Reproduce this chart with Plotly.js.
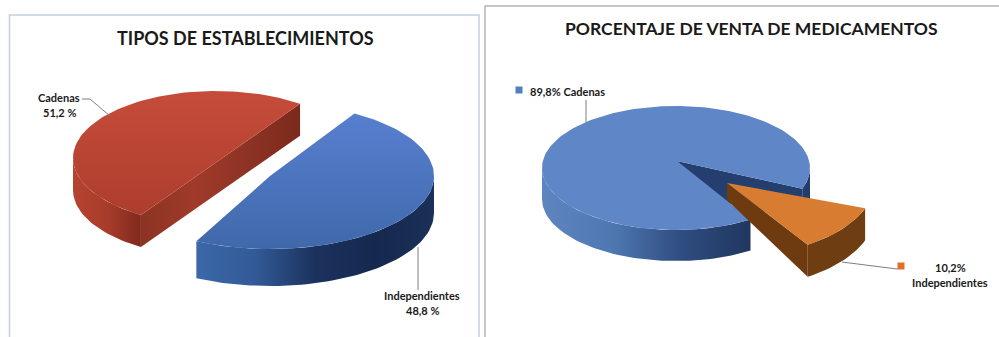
<!DOCTYPE html>
<html lang="es">
<head>
<meta charset="utf-8">
<script src="https://cdn.plot.ly/plotly-3.0.1.min.js"></script>
<style>html,body{margin:0;padding:0;background:#fff}#chart{width:999px;height:337px}</style>
</head>
<body>
<div id="chart"></div>
<script>
// Shares per panel
const establishmentCategories = ['Cadenas', 'Independientes'];
const establishmentValues = [51.2, 48.8];
const salesCategories = ['Cadenas', 'Independientes'];
const salesValues = [89.8, 10.2];
const panelTitles = ['TIPOS DE ESTABLECIMIENTOS', 'PORCENTAJE DE VENTA DE MEDICAMENTOS'];

// Slice projections on the pixel-sized page axes: ellipse centre, radii, extrusion,
// starting angle in degrees and sweep direction.
const chainGeo = {cx: 216, cy: 158, rx: 143, ry: 67, depth: 32, start: 54, dir: 1, chord: true};
const indepGeo = {cx: 270, cy: 176, rx: 164, ry: 73, depth: 37, start: 59, dir: -1};
const salesChainGeo = {cx: 676, cy: 168, rx: 134, ry: 62, depth: 31, start: -19.5, dir: 1, ax: 677, ay: 161};
const salesIndepGeo = {cx: 727, cy: 183, rx: 147, ry: 74, depth: 32, start: -20, dir: -1, apexDepth: 17};

const rad = d => d * Math.PI / 180;
const px = (g, a) => g.cx + g.rx * Math.cos(rad(a));
const py = (g, a) => g.cy - g.ry * Math.sin(rad(a));

function angles(a0, a1) {
  const n = Math.max(2, Math.ceil(Math.abs(a1 - a0) / 2));
  const out = [];
  for (let i = 0; i <= n; i++) out.push(a0 + (a1 - a0) * i / n);
  return out;
}

function poly(xs, ys, fill, name) {
  const t = {x: xs, y: ys, mode: 'lines', fill: 'toself', line: {width: 0, color: 'rgba(0,0,0,0)'},
             hoverinfo: 'skip', name: name, showlegend: false};
  if (fill.type) t.fillgradient = fill; else t.fillcolor = fill;
  return t;
}
const hGrad = (...c) => ({type: 'horizontal', colorscale: c.map((col, i) => [i / (c.length - 1), col])});
const vGrad = (...c) => ({type: 'vertical', colorscale: c.map((col, i) => [i / (c.length - 1), col])});

// Top face of a slice: the rim arc covering the slice's share of the circle, closed
// through the apex, or straight across when the slice is cut along a chord
function topFace(g, value, fill, name) {
  const end = g.start + g.dir * value * 3.6;
  const arc = angles(g.start, end);
  const xs = arc.map(a => px(g, a)), ys = arc.map(a => py(g, a));
  if (!g.chord) {
    xs.push(g.ax === undefined ? g.cx : g.ax);
    ys.push(g.ay === undefined ? g.cy : g.ay);
  }
  xs.push(xs[0]); ys.push(ys[0]);
  return poly(xs, ys, fill, name);
}
// Outer wall between two angles on the rim
function wall(g, a0, a1, fill, name) {
  const arc = angles(a0, a1);
  return poly([...arc.map(a => px(g, a)), ...arc.slice().reverse().map(a => px(g, a))],
              [...arc.map(a => py(g, a)), ...arc.slice().reverse().map(a => py(g, a) + g.depth)], fill, name);
}
// Flat cut wall running from the apex out to the rim at one angle
function cut(g, a, fill, name) {
  const ax = g.ax === undefined ? g.cx : g.ax, ay = g.ay === undefined ? g.cy : g.ay;
  const d0 = g.apexDepth === undefined ? g.depth : g.apexDepth;
  return poly([ax, px(g, a), px(g, a), ax, ax], [ay, py(g, a), py(g, a) + g.depth, ay + d0, ay], fill, name);
}

const traces = [];

// Left panel
const chainEnd = chainGeo.start + chainGeo.dir * establishmentValues[0] * 3.6;
const chainBack = poly(
  [px(chainGeo, chainEnd), px(chainGeo, chainGeo.start), px(chainGeo, chainGeo.start), px(chainGeo, chainEnd), px(chainGeo, chainEnd)],
  [py(chainGeo, chainEnd), py(chainGeo, chainGeo.start), py(chainGeo, chainGeo.start) + chainGeo.depth, py(chainGeo, chainEnd) + chainGeo.depth, py(chainGeo, chainEnd)],
  hGrad('#8c3323', '#a03a2a', '#8e3324', '#7a2a1c'), 'Cadenas corte');
traces.push(chainBack);
traces.push(wall(chainGeo, 180, chainEnd, hGrad('#b5432f', '#a83c2b', '#7f2a1d'), 'Cadenas borde'));
traces.push(topFace(chainGeo, establishmentValues[0], vGrad('#ad3d2e', '#c64c3a'), establishmentCategories[0]));

const indepEnd = indepGeo.start + indepGeo.dir * establishmentValues[1] * 3.6;
traces.push(wall(indepGeo, indepEnd, 0, hGrad('#3c68a9', '#315a96', '#1b325e', '#15294f', '#1a3056'), 'Independientes borde'));
traces.push(topFace(indepGeo, establishmentValues[1], vGrad('#4069ab', '#577fd0'), establishmentCategories[1]));

// Right panel
const gapStart = salesChainGeo.start, gapEnd = gapStart + salesChainGeo.dir * salesValues[0] * 3.6;
traces.push(wall(salesChainGeo, gapStart, 0, '#223d6c', 'Cadenas borde derecho'));
traces.push(cut(salesChainGeo, gapStart, '#243f6e', 'Cadenas corte'));
traces.push(wall(salesChainGeo, 180, gapEnd, hGrad('#5e85bf', '#4f78b2', '#2f4d80', '#20375f'), 'Cadenas borde'));
traces.push(topFace(salesChainGeo, salesValues[0], '#5f86c6', salesCategories[0]));

const sEnd = salesIndepGeo.start + salesIndepGeo.dir * salesValues[1] * 3.6;
traces.push(cut(salesIndepGeo, sEnd, '#6e3b10', 'Independientes corte'));
traces.push(wall(salesIndepGeo, sEnd, salesIndepGeo.start, '#6e3d12', 'Independientes borde'));
traces.push(topFace(salesIndepGeo, salesValues[1], '#d77c30', salesCategories[1]));

// Leader lines
const leader = (xs, ys) => ({x: xs, y: ys, mode: 'lines', line: {color: '#7f7f7f', width: 1}, hoverinfo: 'skip', showlegend: false});
traces.push(leader([82, 90, 110], [99, 99, 116]));
traces.push(leader([418, 418], [247, 290]));
traces.push(leader([586, 586], [100, 123]));
traces.push(leader([842, 897, 900], [262, 269, 267]));

// Legend keys beside the right-hand labels
traces.push({x: [519, 901], y: [90, 266], mode: 'markers', hoverinfo: 'skip', showlegend: false,
  marker: {symbol: 'square', size: 7, color: ['#4f81bd', '#e2702d']}});

const fmt = v => v.toFixed(1).replace('.', ',');
const label = (x, y, text, size, anchor) => ({x, y, text, xref: 'x', yref: 'y', showarrow: false,
  xanchor: anchor || 'center', yanchor: 'middle',
  font: {family: 'Lato, sans-serif', size, color: '#1a1a1a', weight: 700}});

const annotations = [
  label(245, 38, panelTitles[0], 18),
  label(751, 28, panelTitles[1], 17.5),
  label(59, 97, establishmentCategories[0], 11),
  label(59, 112, fmt(establishmentValues[0]) + ' %', 11),
  label(422, 295, establishmentCategories[1], 11),
  label(422, 310, fmt(establishmentValues[1]) + ' %', 11),
  label(528, 91, fmt(salesValues[0]) + '% ' + salesCategories[0], 11, 'left'),
  label(950, 267, fmt(salesValues[1]) + '%', 11),
  label(950, 282, salesCategories[1], 11)
];

const frame = (x0, y0, x1, y1, color) => ({type: 'rect', xref: 'x', yref: 'y', x0, y0, x1, y1,
  line: {color, width: 1.5}, layer: 'below'});

Plotly.newPlot('chart', traces, {
  width: 999, height: 337,
  margin: {l: 0, r: 0, t: 0, b: 0},
  paper_bgcolor: '#fff', plot_bgcolor: '#fff',
  showlegend: false,
  hovermode: false,
  xaxis: {range: [0, 999], visible: false, fixedrange: true},
  yaxis: {range: [337, 0], visible: false, fixedrange: true},
  shapes: [frame(9.5, 15, 479, 345, '#c3d0e4'), frame(485, 6, 1010, 345, '#b5b5b5')],
  annotations
}, {displayModeBar: false, staticPlot: true});
</script>
</body>
</html>
